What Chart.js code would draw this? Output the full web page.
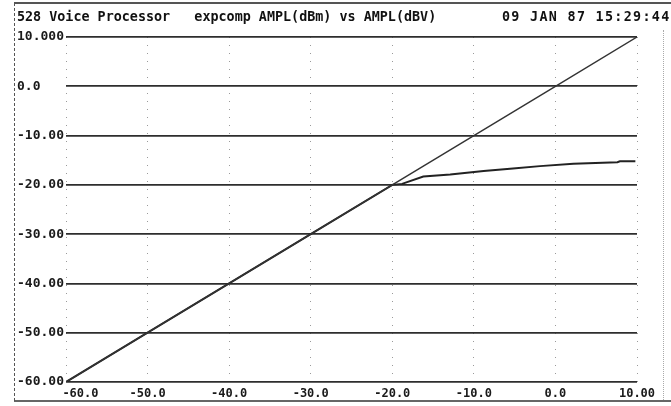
<!DOCTYPE html>
<html>
<head>
<meta charset="utf-8">
<script src="https://cdn.jsdelivr.net/npm/chart.js@4/dist/chart.umd.min.js"></script>
<style>
  html, body { margin: 0; padding: 0; background: #fff; }
  #wrap { position: relative; width: 671px; height: 406px; overflow: hidden; background: #fff; }
  #c { position: absolute; left: 0; top: 0; }
  .frame-top { position: absolute; left: 14px; top: 2px; width: 657px; height: 0; border-top: 2px solid #555; }
  .frame-bottom { position: absolute; left: 14px; top: 400px; width: 657px; height: 0; border-top: 2px solid #666; }
  .frame-left { position: absolute; left: 14px; top: 3px; width: 0; height: 398px; border-left: 1px dashed #555; }
  .frame-right { position: absolute; left: 663px; top: 30px; width: 0; height: 370px; border-left: 1px dotted #aaa; }
  .hdr { position: absolute; top: 8px; font: bold 13.4px "DejaVu Sans Mono", monospace; color: #111; white-space: pre; line-height: 18px; }
  #title { left: 17px; }
  #stamp { left: 502px; letter-spacing: 1.3px; }
</style>
</head>
<body>
<div id="wrap">
  <canvas id="c" width="671" height="406"></canvas>
  <div class="frame-top"></div>
  <div class="frame-bottom"></div>
  <div class="frame-left"></div>
  <div class="frame-right"></div>
  <div class="hdr" id="title">528 Voice Processor   expcomp AMPL(dBm) vs AMPL(dBV)</div>
  <div class="hdr" id="stamp">09 JAN 87 15:29:44</div>
</div>
<script>
// ---- data ----
const xTickValues = [-60, -50, -40, -30, -20, -10, 0, 10];
const xTickLabels = ['-60.0', '-50.0', '-40.0', '-30.0', '-20.0', '-10.0', '0.0', '10.00'];
const yTickValues = [-60, -50, -40, -30, -20, -10, 0, 10];
const yTickLabels = ['-60.00', '-50.00', '-40.00', '-30.00', '-20.00', '-10.00', '0.0', '10.000'];

// straight (uncompressed) trace: input dBV -> output dBm
const linearIn  = [-60, -50, -40, -30, -20, -10, 0, 10];
const linearOut = [-60, -50, -40, -30, -20, -10, 0, 10];

// expander/compressor trace
const compIn  = [-60, -50, -40, -30, -20, -18.8, -16.2, -12.9, -8.8, -5.2, -1.9, 2.2, 7.6, 7.9, 9.8];
const compOut = [-60, -50, -40, -30, -20, -19.8, -18.3, -17.9, -17.2, -16.7, -16.2, -15.7, -15.4, -15.2, -15.2];

const toPoints = (xs, ys) => xs.map((x, i) => ({ x: x, y: ys[i] }));

const ink = '#1a1a1a';
const monoBold = (size) => ({ family: '"DejaVu Sans Mono", monospace', size: size, weight: 'bold' });

new Chart(document.getElementById('c'), {
  type: 'line',
  data: {
    datasets: [
      {
        label: 'linear',
        data: toPoints(linearIn, linearOut),
        borderColor: '#333',
        borderWidth: 1.4,
        pointRadius: 0,
        tension: 0,
        fill: false,
        clip: 0
      },
      {
        label: 'expcomp',
        data: toPoints(compIn, compOut),
        borderColor: '#222',
        borderWidth: 2,
        pointRadius: 0,
        tension: 0,
        fill: false,
        clip: 0
      }
    ]
  },
  options: {
    responsive: false,
    animation: false,
    events: [],
    layout: { padding: { left: 17, right: 34, top: 37, bottom: 4 } },
    plugins: {
      legend: { display: false },
      tooltip: { enabled: false },
      title: { display: false }
    },
    scales: {
      x: {
        type: 'linear',
        min: -60,
        max: 10,
        afterBuildTicks: (s) => { s.ticks = xTickValues.map(v => ({ value: v })); },
        afterFit: (s) => { s.height = 20; },
        border: { display: false, dash: [1, 7] },
        grid: {
          drawTicks: false,
          color: '#9a9a9a',
          lineWidth: 1
        },
        ticks: {
          padding: 5,
          color: ink,
          font: monoBold(12),
          maxRotation: 0,
          autoSkip: false,
          callback: (v) => {
            const i = xTickValues.indexOf(v);
            if (i < 0) return '';
            return i === 0 ? '    ' + xTickLabels[i] : xTickLabels[i];
          }
        }
      },
      y: {
        type: 'linear',
        min: -60,
        max: 10,
        afterBuildTicks: (s) => { s.ticks = yTickValues.map(v => ({ value: v })); },
        afterFit: (s) => { s.width = 49; },
        border: { display: false },
        grid: {
          drawTicks: false,
          color: '#2e2e2e',
          lineWidth: 1.7
        },
        ticks: {
          padding: 0,
          color: ink,
          font: monoBold(13),
          crossAlign: 'far',
          autoSkip: false,
          callback: (v) => {
            const i = yTickValues.indexOf(v);
            return i < 0 ? '' : yTickLabels[i];
          }
        }
      }
    }
  }
});
</script>
</body>
</html>
